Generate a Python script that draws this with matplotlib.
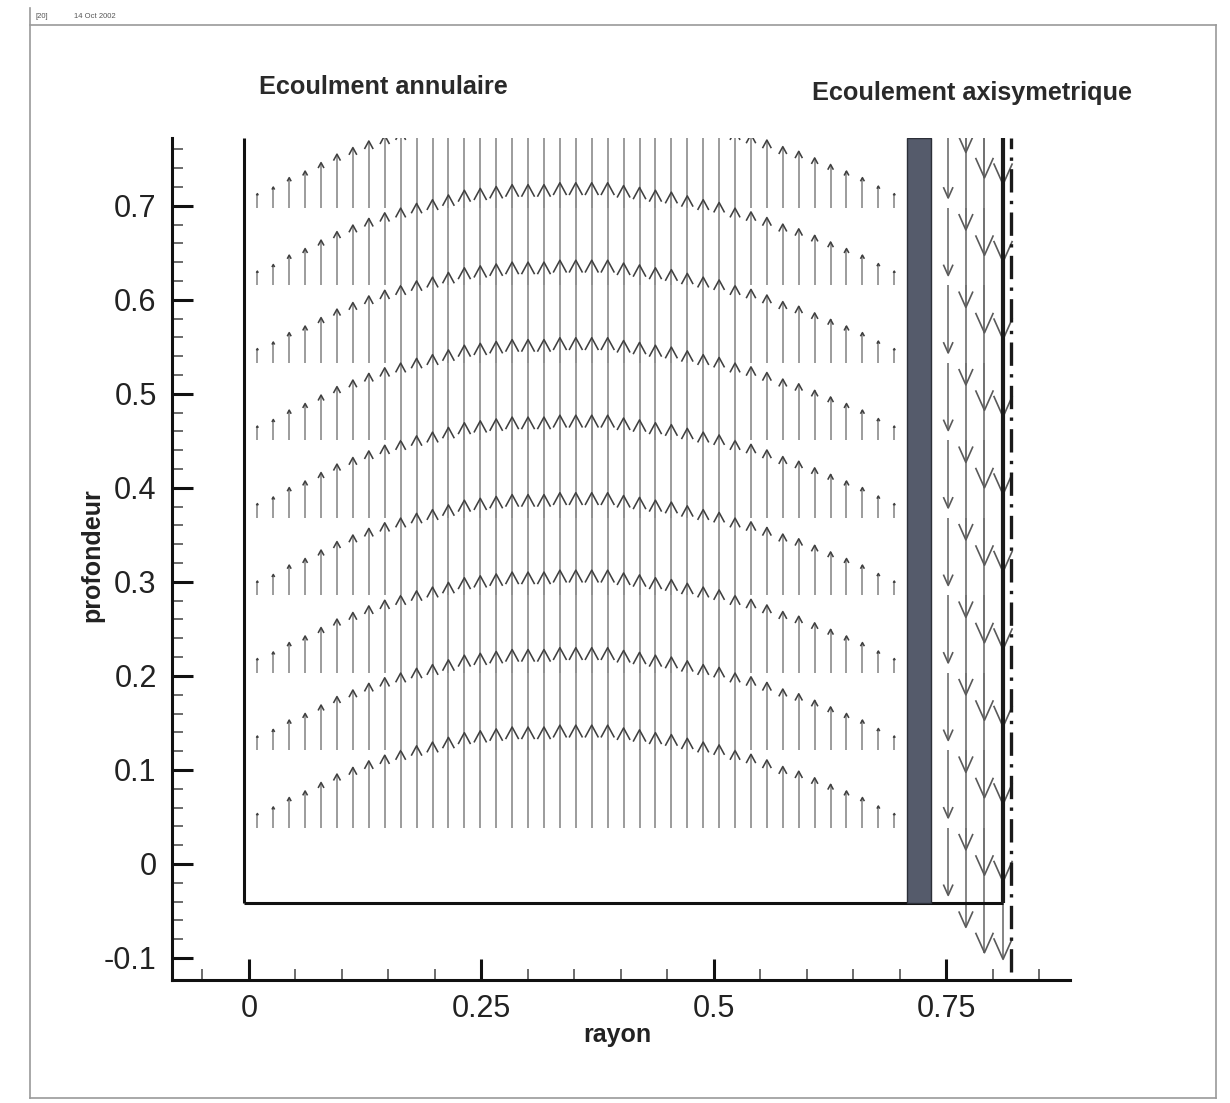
import numpy as np
import matplotlib
matplotlib.use("Agg")
import matplotlib.pyplot as plt
from matplotlib.collections import LineCollection
from matplotlib.patches import Rectangle
from matplotlib.lines import Line2D

plt.rcParams['font.family'] = ['Liberation Sans', 'DejaVu Sans']

# ---- data -------------------------------------------------------------
# depth of the vector origins (mesh rows)
depth_rows = [0.0386, 0.1210, 0.2034, 0.2858, 0.3682, 0.4506,
              0.5330, 0.6154, 0.6978, 0.7802, 0.8626]

# annular flow: radial mesh columns and upward velocity profile
r_annulus = np.linspace(0.009, 0.694, 41)
w_annulus = [0.15, 0.22, 0.32, 0.39, 0.48, 0.57, 0.64, 0.71, 0.77, 0.82,
             0.87, 0.91, 0.96, 1.01, 1.03, 1.05, 1.07, 1.07, 1.07, 1.09,
             1.09, 1.09, 1.09, 1.06, 1.04, 1.01, 0.99, 0.95, 0.91, 0.88,
             0.82, 0.78, 0.72, 0.65, 0.60, 0.53, 0.46, 0.39, 0.32, 0.23,
             0.15]

# axisymmetric flow: radial columns and (downward) velocity
r_axis = [0.752, 0.771, 0.791, 0.811]
w_axis = [-0.72, -1.06, -1.33, -1.40]

vec_scale = 0.1          # vector length (axis units) per unit velocity

x_ticks = [0, 0.25, 0.5, 0.75]
x_tick_labels = ['0', '0.25', '0.5', '0.75']
y_ticks = [-0.1, 0, 0.1, 0.2, 0.3, 0.4, 0.5, 0.6, 0.7]
y_tick_labels = ['-0.1', '0', '0.1', '0.2', '0.3', '0.4', '0.5', '0.6', '0.7']

# geometry of the domain
r_wall = -0.005
z_bottom = -0.042
sleeve = (0.708, 0.733)
r_outer = 0.811
r_sym = 0.8195

xlim = (-0.0828, 0.883)
ylim = (-0.1234, 0.772)

# ---- figure -----------------------------------------------------------
W, H = 1230, 1103
AX_L, AX_R, AX_T, AX_B = 172, 1070, 138, 980
fig = plt.figure(figsize=(W / 100, H / 100), dpi=100)
ax = fig.add_axes([AX_L / W, 1 - AX_B / H, (AX_R - AX_L) / W, (AX_B - AX_T) / H])
ax.set_xlim(*xlim)
ax.set_ylim(*ylim)


def arrows(xs, ys, ws, head_frac, head_half):
    shafts, heads = [], []
    for y0 in ys:
        for x0, w in zip(xs, ws):
            dy = w * vec_scale
            if dy == 0:
                continue
            tip = y0 + dy
            hl = head_frac * abs(dy)
            hw = head_half * hl
            back = tip - np.sign(dy) * hl
            shafts.append([(x0, y0), (x0, tip)])
            heads.append([(x0 - hw, back), (x0, tip), (x0 + hw, back)])
    return shafts, heads


# annular region: upward vectors
sh, hd = arrows(r_annulus, depth_rows, w_annulus, 0.12, 0.55)
ax.add_collection(LineCollection(sh, colors='#909090', linewidths=1.25, zorder=3))
ax.add_collection(LineCollection(hd, colors='#404040', linewidths=1.15, zorder=4))

# axisymmetric region: downward vectors
sh, hd = arrows(r_axis, depth_rows, w_axis, 0.16, 0.45)
ax.add_collection(LineCollection(sh, colors='#707070', linewidths=1.2, zorder=3))
ax.add_collection(LineCollection(hd, colors='#5a5a5a', linewidths=1.2, zorder=4))

# domain boundaries
ax.plot([r_wall, r_wall], [z_bottom, ylim[1]], color='#111111', lw=2.2,
        solid_capstyle='butt', zorder=5)
ax.plot([r_wall, r_outer], [z_bottom, z_bottom], color='#111111', lw=2.2,
        solid_capstyle='butt', zorder=5)
ax.add_patch(Rectangle((sleeve[0], z_bottom), sleeve[1] - sleeve[0],
                       ylim[1] - z_bottom, facecolor='#555b6b',
                       edgecolor='#2c2f38', lw=1.0, zorder=5))
ax.plot([r_outer, r_outer], [z_bottom, ylim[1]], color='#1a1a1a', lw=3.0,
        solid_capstyle='butt', zorder=5)
ax.plot([r_sym, r_sym], [-0.115, ylim[1]], color='#1a1a1a', lw=2.4,
        linestyle=(0, (7, 2.5, 1, 2.5)), zorder=5)

# axes styling
for s in ('top', 'right'):
    ax.spines[s].set_visible(False)
for s in ('left', 'bottom'):
    ax.spines[s].set_linewidth(2.2)
    ax.spines[s].set_color('#111111')

ax.set_xticks(x_ticks)
ax.set_xticklabels(x_tick_labels)
ax.set_yticks(y_ticks)
ax.set_yticklabels(y_tick_labels)
ax.set_xticks(np.arange(-0.05, 0.86, 0.05), minor=True)
ax.set_yticks(np.arange(-0.10, 0.765, 0.02), minor=True)
ax.tick_params(which='major', direction='in', length=15, width=2.2,
               color='#111111', labelsize=22, labelcolor='#222222')
ax.tick_params(which='minor', direction='in', length=8, width=1.1,
               color='#444444')
ax.tick_params(axis='y', which='major', pad=11)
ax.tick_params(axis='x', which='major', pad=10)

ax_w, ax_h = AX_R - AX_L, AX_B - AX_T
ax.set_xlabel('rayon', fontsize=18, fontweight='bold', color='#222222')
ax.xaxis.set_label_coords((617 - AX_L) / ax_w, (AX_B - 1035) / ax_h)
ax.xaxis.label.set_va('center')
ax.set_ylabel('profondeur', fontsize=18, fontweight='bold', color='#222222')
ax.yaxis.set_label_coords((92 - AX_L) / ax_w, (AX_B - 555) / ax_h)
ax.yaxis.label.set_va('center')

# region captions
fig.text(259 / W, 1 - 87 / H, 'Ecoulment annulaire', fontsize=18.2,
         fontweight='bold', color='#2a2a2a', ha='left', va='center')
fig.text(812 / W, 1 - 93 / H, 'Ecoulement axisymetrique', fontsize=18.2,
         fontweight='bold', color='#2a2a2a', ha='left', va='center')

# page frame and header
fx0, fx1, fy0, fy1 = 30 / W, 1216 / W, 1 - 1098 / H, 1 - 25 / H
for xs, ys in (([fx0, fx1], [fy1, fy1]), ([fx0, fx1], [fy0, fy0]),
               ([fx0, fx0], [fy0, 1 - 8 / H]), ([fx1, fx1], [fy0, fy1])):
    fig.add_artist(Line2D(xs, ys, transform=fig.transFigure,
                          color='#9a9a9a', lw=1.2))
fig.text(36 / W, 1 - 16 / H, '[20]', fontsize=5.5, color='#555555',
         va='center')
fig.text(74 / W, 1 - 16 / H, '14 Oct 2002', fontsize=5.5, color='#555555',
         va='center')

fig.savefig('out.png', dpi=100, facecolor='white')
